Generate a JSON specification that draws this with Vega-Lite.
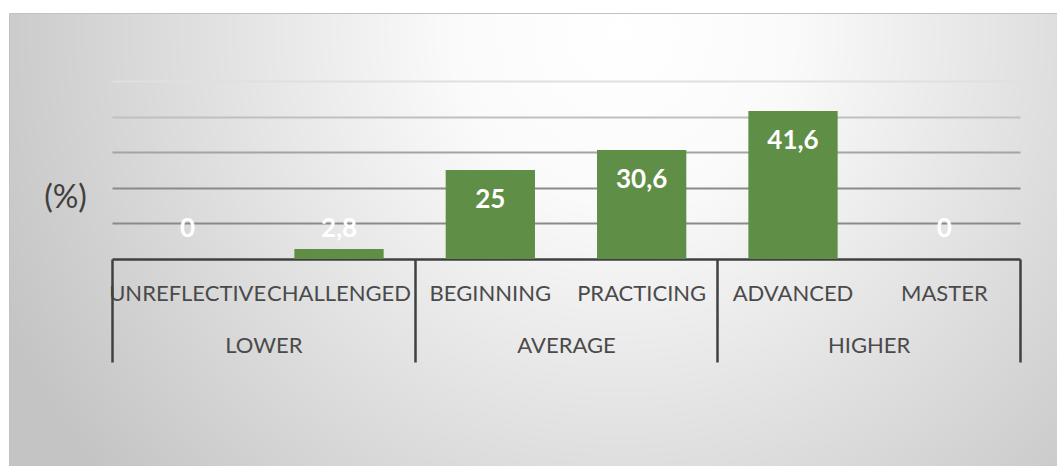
{
  "$schema": "https://vega.github.io/schema/vega-lite/v6.json",
  "width": 1050,
  "height": 455,
  "autosize": {"type": "none"},
  "padding": {"left": 9, "top": 13, "right": 0, "bottom": 0},
  "background": "#ffffff",
  "config": {
    "view": {
      "stroke": "#c2c2c2",
      "strokeWidth": 1,
      "fill": {
        "gradient": "radial",
        "x1": 0.583, "y1": 0.30, "r1": 0,
        "x2": 0.583, "y2": 0.30, "r2": 0.65,
        "stops": [
          {"offset": 0, "color": "#ffffff"},
          {"offset": 0.25, "color": "#fafafa"},
          {"offset": 1, "color": "#c4c4c4"}
        ]
      }
    },
    "font": "Lato"
  },
  "data": {
    "values": [
      {"category": "UNREFLECTIVE", "group": "LOWER", "value": 0, "label": "0"},
      {"category": "CHALLENGED", "group": "LOWER", "value": 2.8, "label": "2,8"},
      {"category": "BEGINNING", "group": "AVERAGE", "value": 25, "label": "25"},
      {"category": "PRACTICING", "group": "AVERAGE", "value": 30.6, "label": "30,6"},
      {"category": "ADVANCED", "group": "HIGHER", "value": 41.6, "label": "41,6"},
      {"category": "MASTER", "group": "HIGHER", "value": 0, "label": "0"}
    ]
  },
  "layer": [
    {
      "layer": [
        {
          "mark": {"type": "bar", "color": "#5f8e46"},
          "encoding": {
            "x": {
              "field": "category",
              "type": "nominal",
              "sort": null,
              "scale": {"range": [103, 1011], "paddingInner": 0.41, "paddingOuter": 0.205},
              "axis": {
                "orient": "bottom",
                "offset": -209,
                "title": null,
                "labelAngle": 0,
                "labelFont": "Lato",
                "labelFontSize": 22,
                "labelColor": "#4a4a4a",
                "labelPadding": 24,
                "labelOverlap": false,
                "labelBound": false,
                "labelLimit": 0,
                "ticks": false,
                "domain": true,
                "domainColor": "#404040",
                "domainWidth": 2.5,
                "grid": false
              }
            },
            "y": {
              "field": "value",
              "type": "quantitative",
              "scale": {"domain": [0, 50], "range": [246, 68], "nice": false},
              "axis": {
                "orient": "left",
                "values": [10, 20, 30, 40, 50],
                "labels": false,
                "ticks": false,
                "domain": false,
                "grid": true,
                "gridWidth": 1.8,
                "gridColor": {
                  "condition": [
                    {"test": "datum.value == 50", "value": "#e0e0e0"},
                    {"test": "datum.value == 40", "value": "#c0c0c0"},
                    {"test": "datum.value == 30", "value": "#a4a4a4"}
                  ],
                  "value": "#8a8a8a"
                },
                "title": "(%)",
                "titleAngle": 0,
                "titleX": 56,
                "titleY": 184,
                "titleAlign": "center",
                "titleBaseline": "middle",
                "titleFont": "Lato",
                "titleFontSize": 32,
                "titleFontWeight": "normal",
                "titleColor": "#404040"
              }
            }
          }
        },
        {
          "transform": [{"calculate": "max(datum.value, 16.9)", "as": "labelPos"}],
          "mark": {"type": "text", "color": "#ffffff", "font": "Lato", "fontSize": 26, "fontWeight": "bold", "baseline": "middle", "dy": 30},
          "encoding": {
            "x": {"field": "category", "type": "nominal", "sort": null},
            "y": {"field": "labelPos", "type": "quantitative"},
            "text": {"field": "label"}
          }
        }
      ]
    },
    {
      "mark": {"type": "point", "opacity": 0},
      "encoding": {
        "x": {
          "field": "group",
          "type": "nominal",
          "sort": null,
          "scale": {"range": [103, 1011], "paddingInner": 0, "paddingOuter": 0},
          "axis": {
            "orient": "bottom",
            "offset": -209,
            "title": null,
            "labelAngle": 0,
            "labelFont": "Lato",
            "labelFontSize": 22,
            "labelColor": "#4a4a4a",
            "labelPadding": -27,
            "labelOverlap": false,
            "labelBound": false,
            "domain": false,
            "ticks": true,
            "tickBand": "extent",
            "tickSize": 103,
            "tickColor": "#404040",
            "tickWidth": 2.5,
            "grid": false
          }
        }
      }
    }
  ],
  "resolve": {"scale": {"x": "independent"}, "axis": {"x": "independent"}}
}
